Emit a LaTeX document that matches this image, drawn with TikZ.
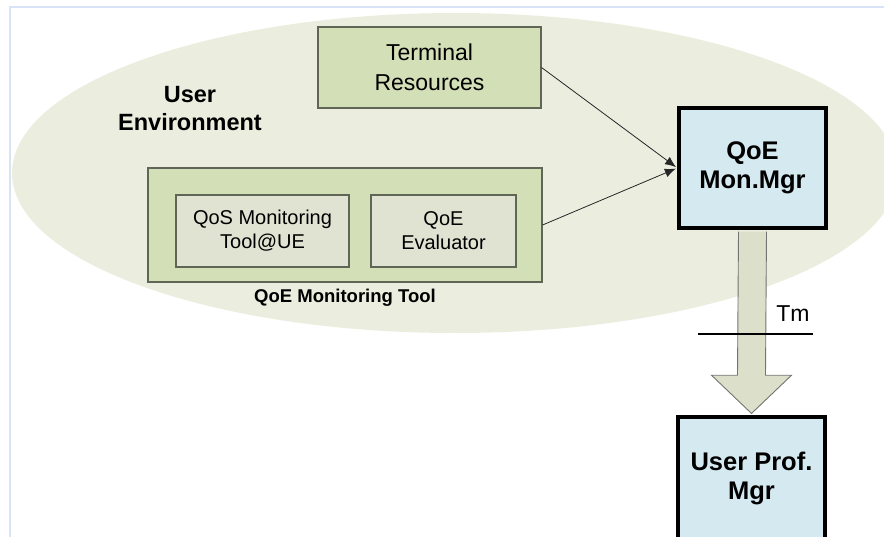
\documentclass[tikz,border=0pt]{standalone}
\usepackage{fontspec}
\setmainfont{Liberation Sans}
\usetikzlibrary{shapes.geometric,arrows.meta,calc,positioning}
\definecolor{envfill}{HTML}{EBEEDF}
\definecolor{boxfill}{HTML}{D3DFB6}
\definecolor{subfill}{HTML}{E0E3D2}
\definecolor{mgrfill}{HTML}{D5E9F1}
\definecolor{pipefill}{HTML}{DCDFCA}
\definecolor{framecol}{HTML}{D8E4F6}
\definecolor{edgecol}{HTML}{5F6655}

\begin{document}
\begin{tikzpicture}[x=1pt, y=-1pt, >={Latex[length=11pt,width=9pt]},
    every node/.style={inner sep=0pt, align=center},
    greenbox/.style={rectangle, draw=edgecol, fill=boxfill, line width=1.1pt},
    subbox/.style={rectangle, draw=edgecol, fill=subfill, line width=1.1pt, font=\fontsize{20}{24}\selectfont},
    mgrbox/.style={rectangle, draw=black, fill=mgrfill, line width=3.5pt, minimum width=147, font=\bfseries\fontsize{25.5}{29}\selectfont},
    boldlabel/.style={font=\bfseries\fontsize{#1}{28}\selectfont},
    feed/.style={->, draw=black!85, line width=0.8pt, shorten >=1.5pt}]
    \useasboundingbox (0,0) rectangle (884,536);
    \clip (0,0) rectangle (884,536);
    \draw[framecol, line width=2pt] (10,545) -- (10,7) -- (895,7);

    % Nodes
    \node[ellipse, fill=envfill, minimum width=886, minimum height=320] (env) at (455,173) {};
    \node[boldlabel=23.5] (envlbl) at (190,109) {User\\Environment};

    \node[greenbox, minimum width=223, minimum height=81, font=\fontsize{23}{30}\selectfont] (term) at (429.5,67.5) {Terminal\\Resources};

    \node[greenbox, minimum width=394, minimum height=114] (montool) at (345,225) {};
    \node[subbox, minimum width=173, minimum height=72] (qos) at (262.5,231) {QoS Monitoring\\Tool@UE};
    \node[subbox, minimum width=145, minimum height=72] (eval) at (443.5,231) {QoE\\Evaluator};
    \node[boldlabel=18.5, below=6pt of montool] (montoollbl) {QoE Monitoring Tool};

    \node[mgrbox, minimum height=120] (mgr) at (752.5,168) {QoE\\Mon.Mgr};
    \node[mgrbox, minimum height=126, text depth=8pt] (prof) at (751.5,480) {User Prof.\\Mgr};

    % Edges
    \draw[feed] (term.east) -- (mgr.west);
    \draw[feed] (montool.east) -- (mgr.west);

    \draw[fill=pipefill, draw=black!55, line width=0.9pt]
      ($(mgr.south)+(-14,1.8)$) -- ($(prof.north)+(-14,-40)$) -- ($(prof.north)+(-40,-40)$)
      -- ($(prof.north)+(0,-1.8)$) -- ($(prof.north)+(40,-40)$) -- ($(prof.north)+(14,-40)$)
      -- ($(mgr.south)+(14,1.8)$);

    \coordinate (tmL) at (698,334);
    \coordinate (tmR) at (813,334);
    \draw[line width=1.4pt] (tmL) -- (tmR);
    \node[font=\fontsize{23}{28}\selectfont] (tm) at (793,314) {Tm};
\end{tikzpicture}
\end{document}
